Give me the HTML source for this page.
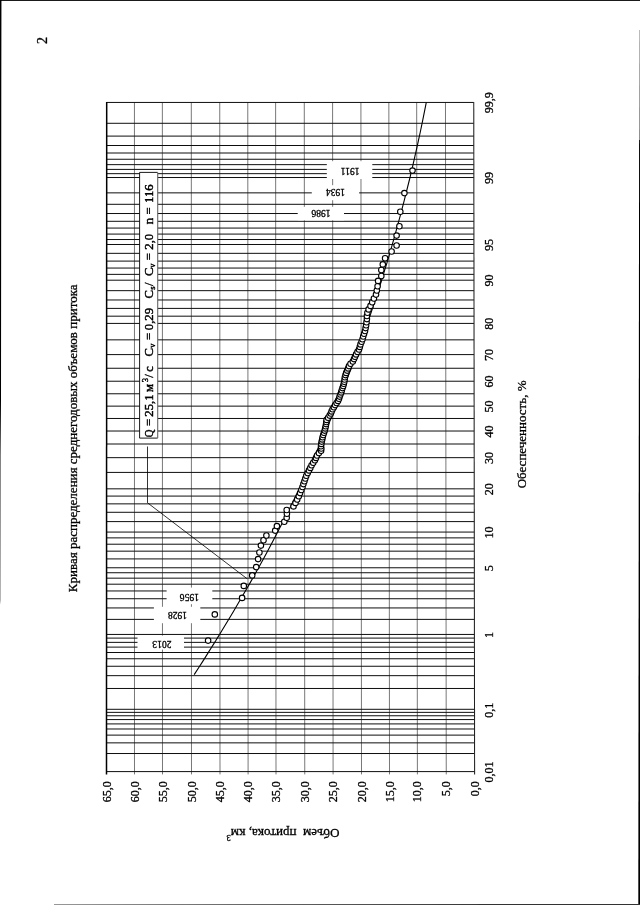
<!DOCTYPE html>
<html><head><meta charset="utf-8"><title>2</title><style>
html,body{margin:0;padding:0;background:#fff;}svg{display:block;filter:grayscale(1)}
text{font-family:"Liberation Serif","DejaVu Serif",serif;fill:#000;stroke:#000;stroke-width:.3px}.nb{stroke:none}
.g line{stroke:#000;stroke-width:.95}.v line{stroke:#151515;stroke-width:.58}
.pt circle{fill:#fff;stroke:#000;stroke-width:1.1}
</style></head><body>
<svg width="640" height="905" viewBox="0 0 640 905">
<rect width="640" height="905" fill="#fff"/>
<g fill="#000">
<rect x="0" y="0" width="640" height="0.9"/>
<polygon points="0,0 1.45,0 1.3,85 1.0,400 0.5,455 0.3,600 0,605"/>
<polygon points="640,30 639.5,30 639.2,140 640,140" fill="#777"/>
<polygon points="640,140 639.1,140 638.3,905 640,905" fill="#000"/>
<polygon points="54,905 54,904.5 640,903.9 640,905" fill="#333"/>
</g>
<g class="g">
<line x1="106.5" x2="474.60" y1="771.60" y2="771.60"/>
<line x1="106.5" x2="474.58" y1="753.52" y2="753.52"/>
<line x1="106.5" x2="474.56" y1="742.86" y2="742.86"/>
<line x1="106.5" x2="474.55" y1="735.11" y2="735.11"/>
<line x1="106.5" x2="474.55" y1="728.99" y2="728.99"/>
<line x1="106.5" x2="474.54" y1="723.92" y2="723.92"/>
<line x1="106.5" x2="474.53" y1="719.57" y2="719.57"/>
<line x1="106.5" x2="474.53" y1="715.76" y2="715.76"/>
<line x1="106.5" x2="474.52" y1="712.37" y2="712.37"/>
<line x1="106.5" x2="474.52" y1="709.31" y2="709.31"/>
<line x1="106.5" x2="474.49" y1="688.47" y2="688.47"/>
<line x1="106.5" x2="474.48" y1="675.66" y2="675.66"/>
<line x1="106.5" x2="474.47" y1="666.25" y2="666.25"/>
<line x1="106.5" x2="474.46" y1="658.76" y2="658.76"/>
<line x1="106.5" x2="474.45" y1="652.50" y2="652.50"/>
<line x1="106.5" x2="474.44" y1="647.11" y2="647.11"/>
<line x1="106.5" x2="474.44" y1="642.36" y2="642.36"/>
<line x1="106.5" x2="474.43" y1="638.10" y2="638.10"/>
<line x1="106.5" x2="474.43" y1="634.44" y2="634.44"/>
<line x1="106.5" x2="474.41" y1="619.39" y2="619.39"/>
<line x1="106.5" x2="474.39" y1="607.95" y2="607.95"/>
<line x1="106.5" x2="474.38" y1="598.74" y2="598.74"/>
<line x1="106.5" x2="474.37" y1="590.96" y2="590.96"/>
<line x1="106.5" x2="474.36" y1="584.19" y2="584.19"/>
<line x1="106.5" x2="474.35" y1="578.17" y2="578.17"/>
<line x1="106.5" x2="474.35" y1="572.74" y2="572.74"/>
<line x1="106.5" x2="474.34" y1="567.77" y2="567.77"/>
<line x1="106.5" x2="474.33" y1="558.92" y2="558.92"/>
<line x1="106.5" x2="474.32" y1="551.16" y2="551.16"/>
<line x1="106.5" x2="474.31" y1="544.21" y2="544.21"/>
<line x1="106.5" x2="474.30" y1="537.89" y2="537.89"/>
<line x1="106.5" x2="474.30" y1="532.07" y2="532.07"/>
<line x1="106.5" x2="474.28" y1="521.60" y2="521.60"/>
<line x1="106.5" x2="474.27" y1="512.29" y2="512.29"/>
<line x1="106.5" x2="474.26" y1="503.86" y2="503.86"/>
<line x1="106.5" x2="474.25" y1="496.08" y2="496.08"/>
<line x1="106.5" x2="474.24" y1="488.84" y2="488.84"/>
<line x1="106.5" x2="474.22" y1="472.41" y2="472.41"/>
<line x1="106.5" x2="474.20" y1="457.66" y2="457.66"/>
<line x1="106.5" x2="474.18" y1="444.00" y2="444.00"/>
<line x1="106.5" x2="474.17" y1="431.03" y2="431.03"/>
<line x1="106.5" x2="474.15" y1="418.48" y2="418.48"/>
<line x1="106.5" x2="474.14" y1="406.13" y2="406.13"/>
<line x1="106.5" x2="474.12" y1="393.78" y2="393.78"/>
<line x1="106.5" x2="474.10" y1="381.23" y2="381.23"/>
<line x1="106.5" x2="474.09" y1="368.26" y2="368.26"/>
<line x1="106.5" x2="474.07" y1="354.60" y2="354.60"/>
<line x1="106.5" x2="474.05" y1="339.85" y2="339.85"/>
<line x1="106.5" x2="474.03" y1="323.42" y2="323.42"/>
<line x1="106.5" x2="474.02" y1="316.18" y2="316.18"/>
<line x1="106.5" x2="474.01" y1="308.40" y2="308.40"/>
<line x1="106.5" x2="474.00" y1="299.97" y2="299.97"/>
<line x1="106.5" x2="473.99" y1="290.66" y2="290.66"/>
<line x1="106.5" x2="473.98" y1="280.19" y2="280.19"/>
<line x1="106.5" x2="473.97" y1="274.37" y2="274.37"/>
<line x1="106.5" x2="473.96" y1="268.05" y2="268.05"/>
<line x1="106.5" x2="473.95" y1="261.10" y2="261.10"/>
<line x1="106.5" x2="473.94" y1="253.34" y2="253.34"/>
<line x1="106.5" x2="473.93" y1="244.49" y2="244.49"/>
<line x1="106.5" x2="473.92" y1="239.52" y2="239.52"/>
<line x1="106.5" x2="473.92" y1="234.09" y2="234.09"/>
<line x1="106.5" x2="473.91" y1="228.07" y2="228.07"/>
<line x1="106.5" x2="473.90" y1="221.30" y2="221.30"/>
<line x1="106.5" x2="473.89" y1="213.52" y2="213.52"/>
<line x1="106.5" x2="473.88" y1="204.31" y2="204.31"/>
<line x1="106.5" x2="473.86" y1="192.87" y2="192.87"/>
<line x1="106.5" x2="473.85" y1="177.52" y2="177.52"/>
<line x1="106.5" x2="473.84" y1="173.66" y2="173.66"/>
<line x1="106.5" x2="473.84" y1="169.40" y2="169.40"/>
<line x1="106.5" x2="473.83" y1="164.65" y2="164.65"/>
<line x1="106.5" x2="473.82" y1="159.26" y2="159.26"/>
<line x1="106.5" x2="473.81" y1="153.00" y2="153.00"/>
<line x1="106.5" x2="473.80" y1="145.51" y2="145.51"/>
<line x1="106.5" x2="473.79" y1="136.10" y2="136.10"/>
<line x1="106.5" x2="473.78" y1="123.29" y2="123.29"/>
<line x1="106.5" x2="473.75" y1="102.45" y2="102.45"/>
</g>
<g class="v">
<line x1="106.70" x2="106.50" y1="102.05" y2="774.40" style="stroke-width:1.5;stroke:#000"/>
<line x1="134.44" x2="134.50" y1="102.05" y2="774.40"/>
<line x1="162.37" x2="162.50" y1="102.05" y2="774.40"/>
<line x1="191.30" x2="191.50" y1="102.05" y2="774.40"/>
<line x1="219.74" x2="220.00" y1="102.05" y2="774.40"/>
<line x1="247.77" x2="248.10" y1="102.05" y2="774.40"/>
<line x1="275.61" x2="276.00" y1="102.05" y2="774.40"/>
<line x1="304.29" x2="304.75" y1="102.05" y2="774.40"/>
<line x1="332.58" x2="333.10" y1="102.05" y2="774.40"/>
<line x1="360.91" x2="361.50" y1="102.05" y2="774.40"/>
<line x1="388.85" x2="389.50" y1="102.05" y2="774.40"/>
<line x1="416.68" x2="417.40" y1="102.05" y2="774.40"/>
<line x1="445.47" x2="446.25" y1="102.05" y2="774.40"/>
<line x1="473.75" x2="474.60" y1="102.05" y2="774.40" style="stroke-width:1.05;stroke:#222"/>
</g>
<polyline fill="none" stroke="#000" stroke-width="1.1" points="194.2,674.6 198.8,667.5 202.6,661.6 205.9,656.4 208.7,651.9 211.3,647.8 213.6,644.1 215.7,640.8 217.6,637.6 219.4,634.7 219.4,634.7 233.3,611.7 242.3,596.3 249.1,584.6 254.5,574.9 259.1,566.7 263.1,559.4 266.6,552.9 269.8,547.0 272.7,541.5 275.3,536.5 277.8,531.7 280.1,527.3 282.3,523.1 284.3,519.0 286.3,515.2 288.1,511.5 289.9,508.0 291.6,504.6 293.2,501.3 294.8,498.1 296.3,495.0 297.7,492.0 299.2,489.0 300.5,486.2 301.9,483.4 303.2,480.7 304.4,478.0 305.7,475.4 306.9,472.8 308.1,470.2 309.2,467.8 310.3,465.3 311.5,462.9 312.5,460.5 313.6,458.2 314.7,455.8 315.7,453.6 316.7,451.3 317.7,449.0 318.7,446.8 319.7,444.6 320.7,442.4 321.6,440.3 322.6,438.1 323.5,436.0 324.4,433.9 325.3,431.8 326.2,429.7 327.1,427.6 328.0,425.5 328.9,423.5 329.8,421.4 330.6,419.4 331.5,417.3 332.4,415.3 333.2,413.2 334.1,411.2 334.9,409.2 335.7,407.1 336.6,405.1 337.4,403.1 338.2,401.1 339.1,399.0 339.9,397.0 340.7,394.9 341.5,392.9 342.3,390.9 343.2,388.8 344.0,386.7 344.8,384.7 345.6,382.6 346.4,380.5 347.2,378.4 348.1,376.3 348.9,374.1 349.7,372.0 350.5,369.8 351.4,367.6 352.2,365.4 353.0,363.2 353.9,361.0 354.7,358.7 355.6,356.4 356.4,354.1 357.3,351.7 358.2,349.4 359.1,347.0 360.0,344.5 360.9,342.0 361.8,339.5 362.7,336.9 363.6,334.3 364.6,331.6 365.5,328.9 366.5,326.1 367.5,323.2 368.5,320.3 369.5,317.3 370.6,314.2 371.6,311.0 372.7,307.7 373.9,304.3 375.0,300.7 376.2,297.1 377.5,293.2 378.8,289.2 380.1,285.0 381.5,280.5 383.0,275.8 384.5,270.7 386.2,265.3 388.0,259.4 389.9,252.9 392.0,245.6 394.3,237.3 397.0,227.7 400.2,215.9 404.2,200.6 410.0,177.5 410.0,177.5 410.7,174.4 411.5,171.0 412.4,167.3 413.3,163.3 414.4,158.7 415.5,153.6 416.9,147.7 418.4,140.7 420.3,132.0 422.7,120.3 426.3,102.4"/>
<polyline fill="none" stroke="#000" stroke-width="0.8" points="147.5,446.5 147.5,502.8 247.2,578.8"/>
<g class="pt">
<circle cx="208.1" cy="640.6" r="2.75"/>
<circle cx="214.8" cy="614.4" r="2.75"/>
<circle cx="242.1" cy="597.9" r="2.75"/>
<circle cx="243.8" cy="585.9" r="2.75"/>
<circle cx="252.2" cy="575.4" r="2.75"/>
<circle cx="256.2" cy="567.1" r="2.75"/>
<circle cx="258.1" cy="559.1" r="2.75"/>
<circle cx="259.4" cy="552.5" r="2.75"/>
<circle cx="260.9" cy="545.6" r="2.75"/>
<circle cx="263.5" cy="540.3" r="2.75"/>
<circle cx="266.4" cy="535.5" r="2.75"/>
<circle cx="275.2" cy="530.6" r="2.75"/>
<circle cx="276.9" cy="526.1" r="2.75"/>
<circle cx="284.3" cy="521.8" r="2.75"/>
<circle cx="286.7" cy="517.7" r="2.75"/>
<circle cx="286.9" cy="513.7" r="2.75"/>
<circle cx="286.7" cy="510.0" r="2.75"/>
<circle cx="293.5" cy="506.4" r="2.75"/>
<circle cx="295.5" cy="502.9" r="2.75"/>
<circle cx="297.2" cy="499.5" r="2.75"/>
<circle cx="298.8" cy="496.3" r="2.75"/>
<circle cx="300.1" cy="493.1" r="2.75"/>
<circle cx="301.3" cy="490.0" r="2.75"/>
<circle cx="302.5" cy="487.0" r="2.75"/>
<circle cx="303.4" cy="484.1" r="2.75"/>
<circle cx="304.4" cy="481.3" r="2.75"/>
<circle cx="305.3" cy="478.5" r="2.75"/>
<circle cx="306.3" cy="475.8" r="2.75"/>
<circle cx="307.7" cy="473.1" r="2.75"/>
<circle cx="309.0" cy="470.4" r="2.75"/>
<circle cx="310.3" cy="467.9" r="2.75"/>
<circle cx="311.6" cy="465.3" r="2.75"/>
<circle cx="313.2" cy="462.8" r="2.75"/>
<circle cx="314.9" cy="460.3" r="2.75"/>
<circle cx="316.0" cy="457.9" r="2.75"/>
<circle cx="317.0" cy="455.5" r="2.75"/>
<circle cx="318.9" cy="453.1" r="2.75"/>
<circle cx="321.1" cy="450.8" r="2.75"/>
<circle cx="321.3" cy="448.5" r="2.75"/>
<circle cx="321.0" cy="446.2" r="2.75"/>
<circle cx="321.3" cy="443.9" r="2.75"/>
<circle cx="321.7" cy="441.6" r="2.75"/>
<circle cx="322.2" cy="439.4" r="2.75"/>
<circle cx="322.6" cy="437.2" r="2.75"/>
<circle cx="323.2" cy="435.0" r="2.75"/>
<circle cx="324.0" cy="432.8" r="2.75"/>
<circle cx="324.7" cy="430.6" r="2.75"/>
<circle cx="325.2" cy="428.4" r="2.75"/>
<circle cx="325.7" cy="426.3" r="2.75"/>
<circle cx="326.1" cy="424.1" r="2.75"/>
<circle cx="326.3" cy="422.0" r="2.75"/>
<circle cx="326.6" cy="419.9" r="2.75"/>
<circle cx="328.1" cy="417.7" r="2.75"/>
<circle cx="329.6" cy="415.6" r="2.75"/>
<circle cx="330.8" cy="413.5" r="2.75"/>
<circle cx="331.6" cy="411.4" r="2.75"/>
<circle cx="332.6" cy="409.3" r="2.75"/>
<circle cx="333.9" cy="407.2" r="2.75"/>
<circle cx="335.1" cy="405.1" r="2.75"/>
<circle cx="336.6" cy="403.0" r="2.75"/>
<circle cx="338.0" cy="400.9" r="2.75"/>
<circle cx="339.0" cy="398.8" r="2.75"/>
<circle cx="339.6" cy="396.6" r="2.75"/>
<circle cx="340.4" cy="394.5" r="2.75"/>
<circle cx="341.2" cy="392.4" r="2.75"/>
<circle cx="341.8" cy="390.3" r="2.75"/>
<circle cx="342.5" cy="388.1" r="2.75"/>
<circle cx="343.2" cy="386.0" r="2.75"/>
<circle cx="343.8" cy="383.8" r="2.75"/>
<circle cx="344.3" cy="381.7" r="2.75"/>
<circle cx="344.6" cy="379.5" r="2.75"/>
<circle cx="344.9" cy="377.3" r="2.75"/>
<circle cx="345.5" cy="375.1" r="2.75"/>
<circle cx="346.2" cy="372.9" r="2.75"/>
<circle cx="347.2" cy="370.6" r="2.75"/>
<circle cx="348.2" cy="368.4" r="2.75"/>
<circle cx="349.0" cy="366.1" r="2.75"/>
<circle cx="350.5" cy="363.8" r="2.75"/>
<circle cx="352.8" cy="361.5" r="2.75"/>
<circle cx="354.0" cy="359.1" r="2.75"/>
<circle cx="355.0" cy="356.8" r="2.75"/>
<circle cx="356.1" cy="354.4" r="2.75"/>
<circle cx="357.5" cy="351.9" r="2.75"/>
<circle cx="359.0" cy="349.5" r="2.75"/>
<circle cx="359.8" cy="346.9" r="2.75"/>
<circle cx="360.5" cy="344.4" r="2.75"/>
<circle cx="361.6" cy="341.8" r="2.75"/>
<circle cx="362.5" cy="339.2" r="2.75"/>
<circle cx="363.2" cy="336.5" r="2.75"/>
<circle cx="364.1" cy="333.8" r="2.75"/>
<circle cx="365.0" cy="331.0" r="2.75"/>
<circle cx="365.6" cy="328.1" r="2.75"/>
<circle cx="366.1" cy="325.2" r="2.75"/>
<circle cx="366.5" cy="322.2" r="2.75"/>
<circle cx="366.9" cy="319.1" r="2.75"/>
<circle cx="366.9" cy="316.0" r="2.75"/>
<circle cx="367.4" cy="312.7" r="2.75"/>
<circle cx="368.6" cy="309.4" r="2.75"/>
<circle cx="370.5" cy="305.9" r="2.75"/>
<circle cx="372.2" cy="302.3" r="2.75"/>
<circle cx="373.9" cy="298.5" r="2.75"/>
<circle cx="376.0" cy="294.6" r="2.75"/>
<circle cx="376.8" cy="290.5" r="2.75"/>
<circle cx="377.6" cy="286.2" r="2.75"/>
<circle cx="378.1" cy="280.9" r="2.75"/>
<circle cx="381.3" cy="276.0" r="2.75"/>
<circle cx="381.3" cy="270.0" r="2.75"/>
<circle cx="382.8" cy="264.4" r="2.75"/>
<circle cx="385.1" cy="258.2" r="2.75"/>
<circle cx="391.6" cy="251.5" r="2.75"/>
<circle cx="396.6" cy="245.5" r="2.75"/>
<circle cx="396.6" cy="235.6" r="2.75"/>
<circle cx="399.4" cy="226.3" r="2.75"/>
<circle cx="400.3" cy="211.8" r="2.75"/>
<circle cx="404.4" cy="193.1" r="2.75"/>
<circle cx="412.5" cy="170.6" r="2.75"/>
</g>
<rect x="137.5" y="635.6" width="46.5" height="14.0" fill="#fff"/>
<rect x="153.9" y="606.8" width="46.4" height="16.4" fill="#fff"/>
<rect x="166.6" y="587.6" width="45.7" height="16.6" fill="#fff"/>
<rect x="326.8" y="161.2" width="45.5" height="17.8" fill="#fff"/>
<rect x="311.8" y="185.2" width="47.3" height="15.0" fill="#fff"/>
<rect x="297.7" y="206.8" width="46.3" height="13.5" fill="#fff"/>
<text transform="translate(161.9,644) rotate(180)" font-size="9.6" text-anchor="middle" dy="0.34em">2013</text>
<text transform="translate(177.5,615.5) rotate(180)" font-size="9.6" text-anchor="middle" dy="0.34em">1928</text>
<text transform="translate(189.4,597.2) rotate(180)" font-size="9.6" text-anchor="middle" dy="0.34em">1956</text>
<text transform="translate(350.2,170.8) rotate(180)" font-size="9.6" text-anchor="middle" dy="0.34em">1911</text>
<text transform="translate(335.5,192.7) rotate(180)" font-size="9.6" text-anchor="middle" dy="0.34em">1934</text>
<text transform="translate(321,213.4) rotate(180)" font-size="9.6" text-anchor="middle" dy="0.34em">1986</text>
<rect x="139.6" y="172.4" width="18.1" height="265.7" fill="#fff"/>
<polyline points="157.7,172.4 139.6,172.4 139.6,438.1 157.7,438.1" fill="none" stroke="#000" stroke-width="0.9"/>
<line x1="157.7" x2="157.7" y1="172.4" y2="438.1" stroke="#666" stroke-width="1.1"/>
<text transform="translate(153.0,437) rotate(-90) scale(1,1.05)" font-size="12.7" style="stroke-width:.42px"><tspan x="-0.2" y="0" textLength="7.8" lengthAdjust="spacingAndGlyphs">Q</tspan><tspan x="10.9" y="0">=</tspan><tspan x="20.3" y="0">25,1</tspan><tspan x="45.1" y="0">м</tspan><tspan x="54.7" y="-5.14" font-size="8.5">3</tspan><tspan x="59.2" y="0">/</tspan><tspan x="65.3" y="0">с</tspan><tspan x="80.5" y="0">C</tspan><tspan x="89.2" y="1.81" font-size="8.5">v</tspan><tspan x="97.1" y="0">=</tspan><tspan x="106.8" y="0">0,29</tspan><tspan x="138.5" y="0">C</tspan><tspan x="147.2" y="1.81" font-size="8.5">s</tspan><tspan x="150.9" y="0">/</tspan><tspan x="161.0" y="0">C</tspan><tspan x="169.3" y="1.81" font-size="8.5">v</tspan><tspan x="176.8" y="0">=</tspan><tspan x="187.3" y="0">2,0</tspan><tspan x="212.8" y="0">n</tspan><tspan x="222.5" y="0">=</tspan><tspan x="234.1" y="0">116</tspan></text>
<text transform="translate(492.6,772.0) rotate(-90)" font-size="12" text-anchor="middle">0,01</text>
<text transform="translate(492.6,710.2) rotate(-90)" font-size="12" text-anchor="middle">0,1</text>
<text transform="translate(492.6,635.1) rotate(-90)" font-size="12" text-anchor="middle">1</text>
<text transform="translate(492.6,568.2) rotate(-90)" font-size="12" text-anchor="middle">5</text>
<text transform="translate(492.6,532.5) rotate(-90)" font-size="12" text-anchor="middle">10</text>
<text transform="translate(492.6,489.2) rotate(-90)" font-size="12" text-anchor="middle">20</text>
<text transform="translate(492.6,458.1) rotate(-90)" font-size="12" text-anchor="middle">30</text>
<text transform="translate(492.6,431.4) rotate(-90)" font-size="12" text-anchor="middle">40</text>
<text transform="translate(492.6,406.5) rotate(-90)" font-size="12" text-anchor="middle">50</text>
<text transform="translate(492.6,381.6) rotate(-90)" font-size="12" text-anchor="middle">60</text>
<text transform="translate(492.6,355.0) rotate(-90)" font-size="12" text-anchor="middle">70</text>
<text transform="translate(492.6,323.8) rotate(-90)" font-size="12" text-anchor="middle">80</text>
<text transform="translate(492.6,280.6) rotate(-90)" font-size="12" text-anchor="middle">90</text>
<text transform="translate(492.6,244.9) rotate(-90)" font-size="12" text-anchor="middle">95</text>
<text transform="translate(492.6,177.9) rotate(-90)" font-size="12" text-anchor="middle">99</text>
<text transform="translate(492.6,102.8) rotate(-90)" font-size="12" text-anchor="middle">99,9</text>
<text transform="translate(110.5,781.2) rotate(-90)" font-size="12" text-anchor="end">65,0</text>
<text transform="translate(138.5,781.2) rotate(-90)" font-size="12" text-anchor="end">60,0</text>
<text transform="translate(166.5,781.2) rotate(-90)" font-size="12" text-anchor="end">55,0</text>
<text transform="translate(195.5,781.2) rotate(-90)" font-size="12" text-anchor="end">50,0</text>
<text transform="translate(224.0,781.2) rotate(-90)" font-size="12" text-anchor="end">45,0</text>
<text transform="translate(252.1,781.2) rotate(-90)" font-size="12" text-anchor="end">40,0</text>
<text transform="translate(280.0,781.2) rotate(-90)" font-size="12" text-anchor="end">35,0</text>
<text transform="translate(308.8,781.2) rotate(-90)" font-size="12" text-anchor="end">30,0</text>
<text transform="translate(337.1,781.2) rotate(-90)" font-size="12" text-anchor="end">25,0</text>
<text transform="translate(365.5,781.2) rotate(-90)" font-size="12" text-anchor="end">20,0</text>
<text transform="translate(393.5,781.2) rotate(-90)" font-size="12" text-anchor="end">15,0</text>
<text transform="translate(421.4,781.2) rotate(-90)" font-size="12" text-anchor="end">10,0</text>
<text transform="translate(450.2,781.2) rotate(-90)" font-size="12" text-anchor="end">5,0</text>
<text transform="translate(478.6,781.2) rotate(-90)" font-size="12" text-anchor="end">0,0</text>
<text transform="translate(77.2,592.2) rotate(-90)" font-size="13">Кривая распределения среднегодовых объемов притока</text>
<text transform="translate(526.4,488.3) rotate(-90)" font-size="13">Обеспеченность, %</text>
<text transform="translate(339.5,828.8) rotate(180)" font-size="13.05" xml:space="preserve">Объем  притока, км<tspan font-size="8.5" dy="-6">3</tspan></text>
<text transform="translate(46.6,43.9) rotate(-90)" font-size="14">2</text>
</svg></body></html>
